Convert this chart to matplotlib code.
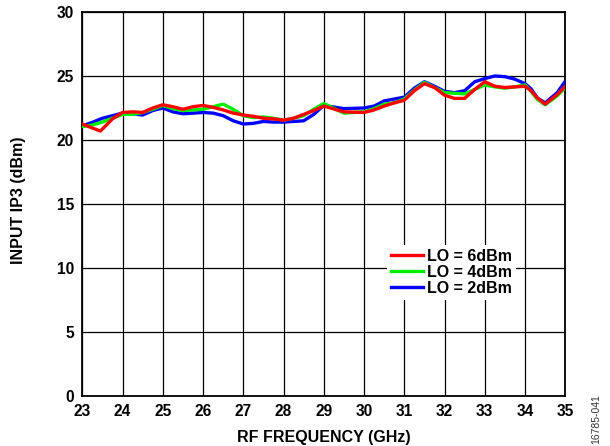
import matplotlib
matplotlib.use("Agg")
import matplotlib.pyplot as plt
from matplotlib.lines import Line2D

# Data
freq_red = [23.0, 23.2, 23.45, 23.75, 24.0, 24.25, 24.5, 24.75, 25.0, 25.25, 25.5, 25.75, 26.0,
            26.25, 26.5, 26.75, 27.0, 27.25, 27.5, 27.75, 28.0, 28.25, 28.5, 28.75,
            29.0, 29.5, 30.0, 30.25, 30.5, 30.75, 31.0, 31.25, 31.5, 31.75, 32.0, 32.25, 32.5,
            32.75, 33.0, 33.25, 33.5, 33.75, 34.0, 34.15, 34.3, 34.5, 34.8, 35.0]
ip3_lo6 = [21.25, 21.0, 20.7, 21.65, 22.15, 22.2, 22.15, 22.5, 22.75, 22.6, 22.4, 22.6, 22.7,
           22.55, 22.35, 22.1, 21.95, 21.85, 21.7, 21.65, 21.55, 21.7, 22.0, 22.3,
           22.65, 22.2, 22.15, 22.35, 22.65, 22.9, 23.1, 23.85, 24.4, 24.1, 23.5, 23.25, 23.25,
           23.95, 24.55, 24.2, 24.1, 24.15, 24.2, 23.85, 23.3, 22.8, 23.55, 24.2]

freq_green = [23.0, 23.25, 23.5, 23.75, 24.0, 24.25, 24.5, 24.75, 25.0, 25.25, 25.5, 25.75, 26.0,
              26.25, 26.5, 26.75, 27.0, 27.25, 27.5, 27.75, 28.0, 28.25, 28.5, 28.75,
              29.0, 29.5, 30.0, 30.25, 30.5, 30.75, 31.0, 31.25, 31.5, 31.75, 32.0, 32.25, 32.5,
              32.75, 33.0, 33.25, 33.5, 33.75, 34.0, 34.15, 34.3, 34.5, 34.8, 35.0]
ip3_lo4 = [21.05, 21.17, 21.4, 21.7, 22.0, 22.0, 22.15, 22.4, 22.7, 22.45, 22.3, 22.35, 22.4,
           22.6, 22.8, 22.4, 21.9, 21.75, 21.8, 21.7, 21.55, 21.7, 21.9, 22.4,
           22.85, 22.1, 22.2, 22.45, 22.8, 22.9, 23.2, 23.9, 24.5, 24.1, 23.7, 23.65, 23.6,
           23.95, 24.3, 24.15, 24.05, 24.15, 24.3, 23.8, 23.2, 22.75, 23.45, 24.1]

freq_blue = [23.0, 23.25, 23.5, 23.75, 24.0, 24.25, 24.5, 24.75, 25.0, 25.25, 25.5, 25.75, 26.0,
             26.25, 26.5, 26.75, 27.0, 27.25, 27.5, 27.75, 28.0, 28.25, 28.5, 28.75,
             29.0, 29.5, 30.0, 30.25, 30.5, 30.75, 31.0, 31.25, 31.5, 31.75, 32.0, 32.25, 32.5,
             32.75, 33.0, 33.25, 33.5, 33.75, 34.0, 34.15, 34.3, 34.5, 34.8, 35.0]
ip3_lo2 = [21.1, 21.38, 21.7, 21.9, 22.1, 22.05, 21.95, 22.3, 22.5, 22.2, 22.05, 22.1, 22.15,
           22.1, 21.9, 21.5, 21.25, 21.3, 21.45, 21.4, 21.4, 21.45, 21.5, 22.0,
           22.7, 22.45, 22.5, 22.65, 23.05, 23.2, 23.35, 24.05, 24.55, 24.2, 23.8, 23.7, 23.85,
           24.55, 24.8, 25.0, 24.95, 24.75, 24.4, 24.0, 23.3, 22.9, 23.7, 24.6]

x_ticks = [23, 24, 25, 26, 27, 28, 29, 30, 31, 32, 33, 34, 35]
y_ticks = [0, 5, 10, 15, 20, 25, 30]
labels = ['LO = 6dBm', 'LO = 4dBm', 'LO = 2dBm']
colors = ['#ff0000', '#00ee00', '#0000ff']

plt.rcParams['font.family'] = ['Liberation Sans', 'DejaVu Sans']

fig = plt.figure(figsize=(6.10, 4.46), dpi=100)
ax = fig.add_axes([0.1349, 0.1121, 0.7918, 0.861])

lw = 2.4
kw = dict(lw=lw, solid_joinstyle='round', solid_capstyle='round')
ax.plot(freq_blue, ip3_lo2, color=colors[2], zorder=3, **kw)
ax.plot(freq_green, ip3_lo4, color=colors[1], zorder=4, **kw)
ax.plot(freq_red, ip3_lo6, color=colors[0], zorder=5, **kw)

ax.set_xlim(23, 35)
ax.set_ylim(0, 30)
ax.set_xticks(x_ticks)
ax.set_yticks(y_ticks)
ax.set_xticklabels([str(v) for v in x_ticks], fontweight='bold', fontsize=11.2)
ax.set_yticklabels([str(v) for v in y_ticks], fontweight='bold', fontsize=11.2)
ax.tick_params(length=0, pad=6)
ax.grid(True, color='black', lw=0.9)
ax.set_axisbelow(True)
for s in ax.spines.values():
    s.set_linewidth(1.3)

ax.set_xlabel('RF FREQUENCY (GHz)', fontweight='bold', fontsize=11.5, labelpad=8)
ax.set_ylabel('INPUT IP3 (dBm)', fontweight='bold', fontsize=11.5)
ax.yaxis.set_label_coords(-0.117, 0.51)

handles = [Line2D([], [], color=c, lw=lw) for c in colors]
leg = ax.legend(handles, labels, loc='upper left',
                bbox_to_anchor=(0.6315, 0.393), frameon=True, fancybox=False,
                edgecolor='none', facecolor='white', framealpha=1,
                prop={'weight': 'bold', 'size': 11.5}, handlelength=2.0,
                handletextpad=0.22, labelspacing=0.05, borderpad=0.25, borderaxespad=0)
leg.set_zorder(10)

fig.text(0.978, 0.06, '16785-041', rotation=90, fontsize=7.5, color='#333333',
         ha='center', va='center')

fig.savefig('out.png', dpi=100)
